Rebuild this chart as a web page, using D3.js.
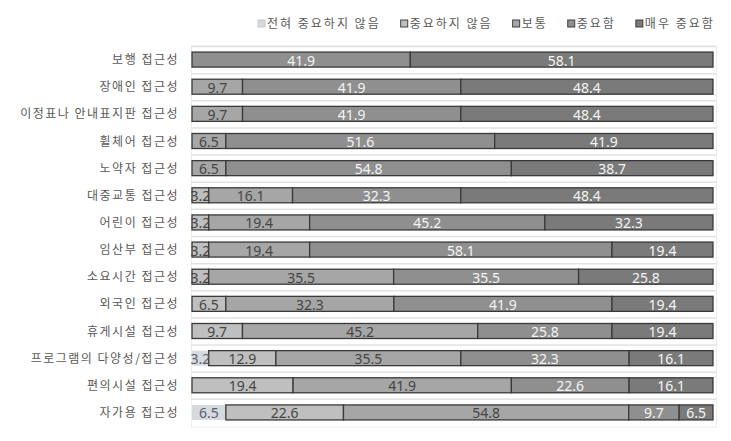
<!DOCTYPE html>
<html><head><meta charset="utf-8">
<script src="https://cdn.jsdelivr.net/npm/d3@7"></script>
<style>
html,body{margin:0;padding:0;background:#fff;}
svg{display:block;}
</style></head>
<body>
<svg id="chart" width="731" height="441"></svg>
<script>
const categories = ["보행 접근성","장애인 접근성","이정표나 안내표지판 접근성","휠체어 접근성","노약자 접근성","대중교통 접근성","어린이 접근성","임산부 접근성","소요시간 접근성","외국인 접근성","휴게시설 접근성","프로그램의 다양성/접근성","편의시설 접근성","자가용 접근성"];
const seriesNames = ["전혀 중요하지 않음","중요하지 않음","보통","중요함","매우 중요함"];
const notAtAll    = [0,0,0,0,0,0,0,0,0,0,0,3.2,0,6.5];
const notImportant= [0,0,0,0,0,3.2,3.2,3.2,3.2,6.5,9.7,12.9,19.4,22.6];
const neutral     = [0,9.7,9.7,6.5,6.5,16.1,19.4,19.4,35.5,32.3,45.2,35.5,41.9,54.8];
const important   = [41.9,41.9,41.9,51.6,54.8,32.3,45.2,58.1,35.5,41.9,25.8,32.3,22.6,9.7];
const veryImportant=[58.1,48.4,48.4,41.9,38.7,48.4,32.3,19.4,25.8,19.4,19.4,16.1,16.1,6.5];

const colors = ["#d6d9de","#bfbfbf","#a6a6a6","#8f8f8f","#7a7a7a"];
const textColors = ["#5a6272","#454545","#454545","#f4f4f4","#f4f4f4"];
const strokes = [null,"#3a3a3a","#3a3a3a","#3a3a3a","#3a3a3a"];

const seriesArrays = [notAtAll, notImportant, neutral, important, veryImportant];
const table = categories.map((c,i)=>{
  const o = {cat:c};
  seriesNames.forEach((s,j)=>o[s]=seriesArrays[j][i]);
  return o;
});

const svg = d3.select("#chart");
const x = d3.scaleLinear().domain([0,1]).range([192,713]);
const y = d3.scaleBand().domain(categories).range([46,426]).paddingInner(0.447).paddingOuter(0.2235);

svg.append("rect").attr("x",191.5).attr("y",46).attr("width",525).attr("height",381)
  .attr("fill","none").attr("stroke","#ececec").attr("stroke-width",1);
svg.append("g").selectAll("line").data(categories).join("line")
  .attr("x1",191).attr("x2",716)
  .attr("y1",d=>y(d)-y.step()*0.2235+0.5).attr("y2",d=>y(d)-y.step()*0.2235+0.5)
  .attr("stroke","#e2e2e2").attr("stroke-width",1.5);

const stack = d3.stack().keys(seriesNames).offset(d3.stackOffsetExpand);
const stacked = stack(table);

const g = svg.append("g");
stacked.forEach((layer,j)=>{
  g.append("g").selectAll("rect").data(layer.filter(d=>d.data[seriesNames[j]]>0)).join("rect")
    .attr("x",d=>x(d[0])).attr("width",d=>x(d[1])-x(d[0]))
    .attr("y",d=>y(d.data.cat)).attr("height",y.bandwidth())
    .attr("fill",colors[j])
    .attr("stroke",strokes[j]||"none").attr("stroke-width",1.3);
});
stacked.forEach((layer,j)=>{
  g.append("g").selectAll("text").data(layer.filter(d=>d.data[seriesNames[j]]>0)).join("text")
    .attr("x",d=>(x(d[0])+x(d[1]))/2)
    .attr("y",d=>y(d.data.cat)+y.bandwidth()/2+6)
    .attr("text-anchor","middle")
    .attr("font-family","'Noto Sans', sans-serif").attr("font-size",14)
    .attr("fill",textColors[j])
    .text(d=>d.data[seriesNames[j]].toFixed(1));
});

svg.append("g").selectAll("text").data(categories).join("text")
  .attr("x",179).attr("y",d=>y(d)+y.bandwidth()/2+4.5)
  .attr("text-anchor","end")
  .attr("font-family","'Noto Sans CJK KR', sans-serif").attr("font-size",12)
  .attr("letter-spacing","1.5px")
  .attr("fill","#595959").text(d=>d);

const leg = svg.append("g");
let lx = 258;
seriesNames.forEach((s,j)=>{
  leg.append("rect").attr("x",lx).attr("y",20).attr("width",7).attr("height",7)
    .attr("fill",colors[j]).attr("stroke",j===0?"#c8c8c8":"#404040").attr("stroke-width",1);
  const t = leg.append("text").attr("x",lx+9).attr("y",28)
    .attr("font-family","'Noto Sans CJK KR', sans-serif").attr("font-size",12)
    .attr("letter-spacing","2px").attr("fill","#595959").text(s);
  lx = lx + 9 + t.node().getComputedTextLength() + 20;
});
</script>
</body></html>
